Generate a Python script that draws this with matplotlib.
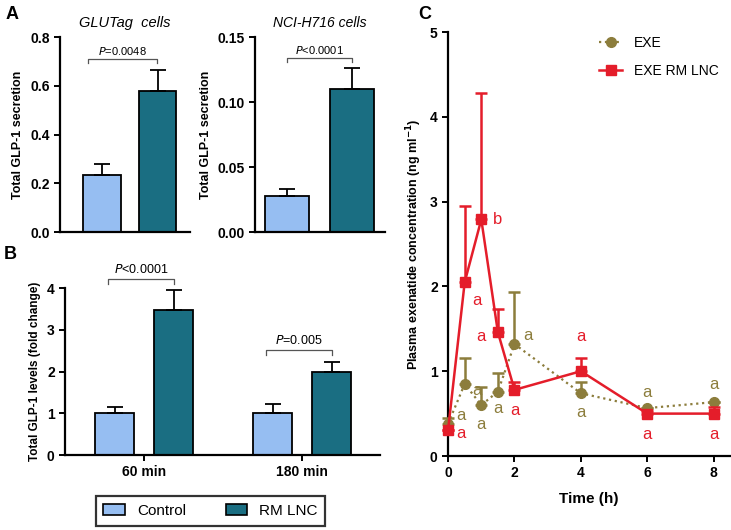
import matplotlib
matplotlib.use('Agg')
import matplotlib.pyplot as plt
from matplotlib.patches import Patch
from matplotlib.lines import Line2D

plt.rcParams['font.family'] = ['Liberation Sans', 'DejaVu Sans']
plt.rcParams['axes.linewidth'] = 1.6
plt.rcParams['xtick.major.width'] = 1.4
plt.rcParams['ytick.major.width'] = 1.4

# Panel A data
glutag_mean = [0.235, 0.58]
glutag_err = [0.045, 0.085]
nci_mean = [0.028, 0.110]
nci_err = [0.005, 0.016]

# Panel B data
times_b = ['60 min', '180 min']
ctrl_b = [1.0, 1.0]
ctrl_b_err = [0.15, 0.22]
rm_b = [3.48, 2.0]
rm_b_err = [0.47, 0.22]
p_b = [('P', '<0.0001'), ('P', '=0.005')]

# Panel C data
t_h = [0, 0.5, 1, 1.5, 2, 4, 6, 8]
exe = [0.38, 0.85, 0.60, 0.76, 1.32, 0.74, 0.565, 0.635]
exe_err = [0.07, 0.31, 0.21, 0.22, 0.61, 0.13, 0.0, 0.0]
lnc = [0.31, 2.05, 2.79, 1.46, 0.78, 1.00, 0.50, 0.50]
lnc_err = [0.0, 0.90, 1.49, 0.27, 0.09, 0.16, 0.03, 0.08]
exe_letters = ['a', 'a', 'a', 'a', 'a', 'a', 'a', 'a']
lnc_letters = ['a', 'a', 'b', 'a', 'a', 'a', 'a', 'a']

c_ctrl = '#96bef2'
c_rm = '#1a6e82'
c_exe = '#8c7d3c'
c_lnc = '#e41d2a'

fig = plt.figure(figsize=(7.31, 5.3), dpi=100)


def style_axis(ax):
    ax.spines['top'].set_visible(False)
    ax.spines['right'].set_visible(False)
    ax.tick_params(labelsize=10, length=4, direction='out')
    for lab in ax.get_yticklabels() + ax.get_xticklabels():
        lab.set_fontweight('bold')


def bracket(ax, x0, x1, y, h, pt, rest, fs):
    ax.plot([x0, x0, x1, x1], [y - h, y, y, y - h], color='#555555', lw=0.9, clip_on=False)
    ax.text((x0 + x1) / 2, y + h * 0.6, '$\\it{' + pt + '}$' + rest, ha='center', va='bottom',
            fontsize=fs, clip_on=False)


# ---- Panel A left
ax1 = fig.add_axes([0.082, 0.562, 0.178, 0.368])
ax1.bar([0, 1], glutag_mean, width=0.68, color=[c_ctrl, c_rm], edgecolor='black', linewidth=1.3,
        yerr=[[0, 0], glutag_err], error_kw=dict(ecolor='black', elinewidth=1.3, capsize=6, capthick=1.3))
ax1.set_xlim(-0.757, 1.586)
ax1.set_ylim(0, 0.8)
ax1.set_yticks([0, 0.2, 0.4, 0.6, 0.8])
ax1.set_yticklabels(['0.0', '0.2', '0.4', '0.6', '0.8'])
ax1.set_xticks([])
ax1.set_ylabel('Total GLP-1 secretion', fontsize=9, fontweight='bold')
ax1.set_title('GLUTag  cells', fontsize=10.5, style='italic', pad=7)
style_axis(ax1)
bracket(ax1, -0.25, 0.99, 0.71, 0.015, 'P', '=0.0048', 8)

# ---- Panel A right
ax2 = fig.add_axes([0.349, 0.562, 0.178, 0.368])
ax2.bar([0, 1], nci_mean, width=0.68, color=[c_ctrl, c_rm], edgecolor='black', linewidth=1.3,
        yerr=[[0, 0], nci_err], error_kw=dict(ecolor='black', elinewidth=1.3, capsize=6, capthick=1.3))
ax2.set_xlim(-0.49, 1.51)
ax2.set_ylim(0, 0.15)
ax2.set_yticks([0, 0.05, 0.10, 0.15])
ax2.set_yticklabels(['0.00', '0.05', '0.10', '0.15'])
ax2.set_xticks([])
ax2.set_ylabel('Total GLP-1 secretion', fontsize=9, fontweight='bold')
ax2.set_title('NCI-H716 cells', fontsize=10, style='italic', pad=7)
style_axis(ax2)
bracket(ax2, 0, 1, 0.134, 0.003, 'P', '<0.0001', 8)

# ---- Panel B
ax3 = fig.add_axes([0.089, 0.1415, 0.431, 0.315])
xb = [0, 1]
off = 0.187
ax3.bar([x - off for x in xb], ctrl_b, width=0.247, color=c_ctrl, edgecolor='black', linewidth=1.3,
        yerr=[[0, 0], ctrl_b_err], error_kw=dict(ecolor='black', elinewidth=1.3, capsize=6, capthick=1.3))
ax3.bar([x + off for x in xb], rm_b, width=0.247, color=c_rm, edgecolor='black', linewidth=1.3,
        yerr=[[0, 0], rm_b_err], error_kw=dict(ecolor='black', elinewidth=1.3, capsize=6, capthick=1.3))
ax3.set_xlim(-0.5, 1.494)
ax3.set_ylim(0, 4)
ax3.set_yticks([0, 1, 2, 3, 4])
ax3.set_xticks(xb)
ax3.set_xticklabels(times_b)
ax3.set_ylabel('Total GLP-1 levels (fold change)', fontsize=8.5, fontweight='bold')
style_axis(ax3)
bracket(ax3, -off - 0.04, off, 4.22, 0.13, p_b[0][0], p_b[0][1], 9)
bracket(ax3, 1 - off - 0.04, 1 + off, 2.52, 0.13, p_b[1][0], p_b[1][1], 9)

leg_handles = [Patch(facecolor=c_ctrl, edgecolor='black', linewidth=1.2, label='Control'),
               Patch(facecolor=c_rm, edgecolor='black', linewidth=1.2, label='RM LNC')]
leg = fig.legend(handles=leg_handles, loc='center', bbox_to_anchor=(0.288, 0.036), ncol=2,
                 fontsize=11, frameon=True, fancybox=False, edgecolor='black',
                 handlelength=1.4, handleheight=0.7, columnspacing=2.6, borderpad=0.5)
leg.get_frame().set_linewidth(1.6)

# ---- Panel C
ax4 = fig.add_axes([0.613, 0.1396, 0.386, 0.8])
ax4.errorbar(t_h, exe, yerr=[[0] * len(exe), exe_err], color=c_exe, ls=':', lw=1.6,
             marker='o', ms=7, capsize=4, capthick=1.8, elinewidth=1.8, label='EXE', clip_on=False, zorder=3)
ax4.errorbar(t_h, lnc, yerr=[[0] * len(lnc), lnc_err], color=c_lnc, ls='-', lw=1.8,
             marker='s', ms=7, capsize=4, capthick=1.8, elinewidth=1.8, label='EXE RM LNC', clip_on=False, zorder=4)
ax4.set_xlim(0, 8.5)
ax4.set_ylim(0, 5)
ax4.set_xticks([0, 2, 4, 6, 8])
ax4.set_yticks([0, 1, 2, 3, 4, 5])
ax4.set_xlabel('Time (h)', fontsize=11, fontweight='bold', labelpad=8)
ax4.set_ylabel('Plasma exenatide concentration (ng ml$^{\\mathbf{-1}}$)', fontsize=9, fontweight='bold')
style_axis(ax4)

# letter offsets in points
exe_off = [(9, 6), (9, -5), (0, -14), (0, -12), (10, 6), (0, -14), (0, 11), (0, 13)]
lnc_off = [(9, -3), (9, -13), (12, 0), (-12, -3), (0, -15), (0, 25), (0, -15), (0, -15)]
for t, v, s, o in zip(t_h, exe, exe_letters, exe_off):
    ax4.annotate(s, (t, v), xytext=o, textcoords='offset points', ha='center', va='center',
                 fontsize=12, color=c_exe, annotation_clip=False)
for t, v, s, o in zip(t_h, lnc, lnc_letters, lnc_off):
    ax4.annotate(s, (t, v), xytext=o, textcoords='offset points', ha='center', va='center',
                 fontsize=12, color=c_lnc, annotation_clip=False)

h_exe = Line2D([], [], color=c_exe, ls=':', lw=1.6, marker='o', ms=7)
h_lnc = Line2D([], [], color=c_lnc, ls='-', lw=1.8, marker='s', ms=7)
ax4.legend([h_exe, h_lnc], ['EXE', 'EXE RM LNC'], loc='upper left', bbox_to_anchor=(0.49, 1.02),
           frameon=False, fontsize=10, handlelength=1.7, labelspacing=1.0)

# panel letters
fig.text(0.008, 0.972, 'A', fontsize=13, fontweight='bold', va='center')
fig.text(0.005, 0.52, 'B', fontsize=13, fontweight='bold', va='center')
fig.text(0.572, 0.972, 'C', fontsize=13, fontweight='bold', va='center')

fig.savefig('out.png', dpi=100)
